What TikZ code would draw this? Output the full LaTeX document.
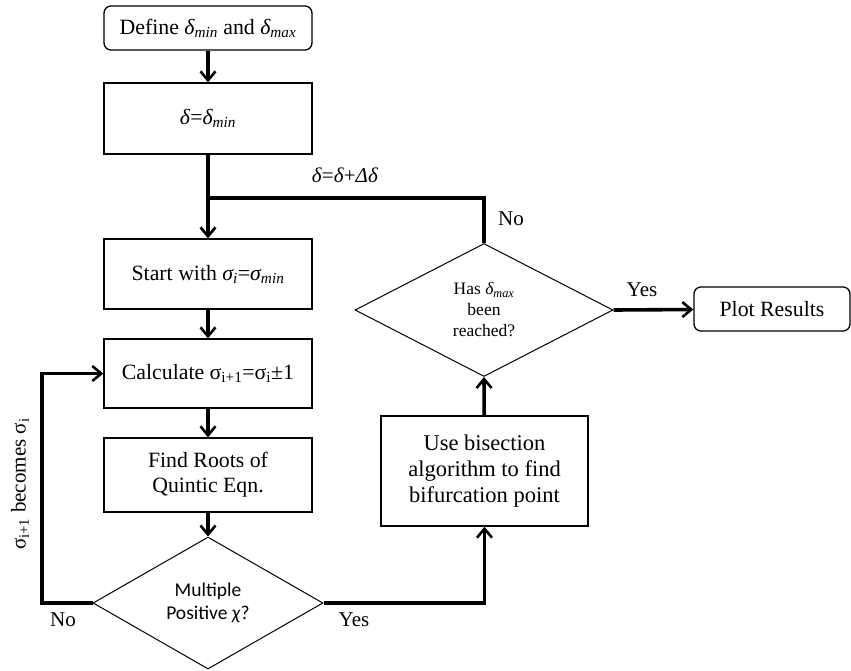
\documentclass[tikz,border=0pt]{standalone}
\usepackage{fontspec}
\setmainfont{Liberation Serif}
\newfontfamily\calib{Carlito}
\usetikzlibrary{shapes.geometric,arrows.meta}
\newcommand\sbs[1]{\textsubscript{#1}}
\begin{document}
\begin{tikzpicture}[x=1pt,y=-1pt,
  box/.style={draw,line width=1.3pt,minimum width=208pt,inner sep=2pt,align=center,font=\fontsize{21.8}{25}\selectfont},
  rbox/.style={box,rounded corners=7pt},
  dia/.style={draw,diamond,line width=1pt,inner sep=0pt,align=center},
  conn/.style={line width=3.6pt},
  arr/.style={conn,-{Straight Barb[length=9pt,width=15pt,line width=2.6pt]}},
  lab/.style={font=\fontsize{21}{24}\selectfont}]
\useasboundingbox (0,0) rectangle (851,670);
\node[rbox,minimum height=44pt] (def) at (208,28) {Define \textit{δ\sbs{min}} and \textit{δ\sbs{max}}};
\node[box,minimum height=71pt] (dmin) at (208,118.5) {\textit{δ}=\textit{δ\sbs{min}}};
\node[box,minimum height=70pt] (start) at (208,274) {Start with \textit{σ\sbs{i}}=\textit{σ\sbs{min}}};
\node[box,minimum height=69pt] (calc) at (208,373.5) {Calculate σ\sbs{i+1}=σ\sbs{i}±1};
\node[box,minimum height=74pt] (roots) at (208,475) {Find Roots of\\Quintic Eqn.};
\node[dia,minimum width=230pt,minimum height=132pt,font=\calib\fontsize{19.5}{23}\selectfont] (multi) at (208,603) {Multiple\\Positive \textit{χ}?};
\node[box,minimum width=207pt,minimum height=110pt,font=\fontsize{22.5}{26}\selectfont] (bis) at (484.5,471) {Use bisection\\algorithm to find\\bifurcation point};
\node[dia,minimum width=258pt,minimum height=133pt,font=\fontsize{17.5}{21}\selectfont] (has) at (484,310) {Has \textit{δ\sbs{max}}\\been\\reached?};
\node[rbox,minimum width=156pt,minimum height=44pt] (plot) at (772,309) {Plot Results};
\coordinate (jn) at (208,198);
\coordinate (lc) at (42,603);
\draw[arr] (def) -- (dmin);
\draw[arr] (dmin) -- (start);
\draw[conn] (has.north) |- (jn);
\draw[arr] (start) -- (calc);
\draw[arr] (calc) -- (roots);
\draw[arr] (roots) -- (multi.north);
\draw[arr] (multi.east) -| (bis.south);
\draw[arr] (bis) -- (has.south);
\draw[arr] (has.east) -- (plot);
\draw[arr] (multi.west) -- (lc) |- (calc.west);
\node[lab] (l1) at (345,175) {\textit{δ}=\textit{δ}+\textit{Δδ}};
\node[lab] (l2) at (511,219) {No};
\node[lab] (l3) at (642,290) {Yes};
\node[lab] (l4) at (354,620) {Yes};
\node[lab] (l5) at (63,620) {No};
\node[lab,rotate=90] (l6) at (20,484) {σ\sbs{i+1} becomes σ\sbs{i}};
\end{tikzpicture}
\end{document}
